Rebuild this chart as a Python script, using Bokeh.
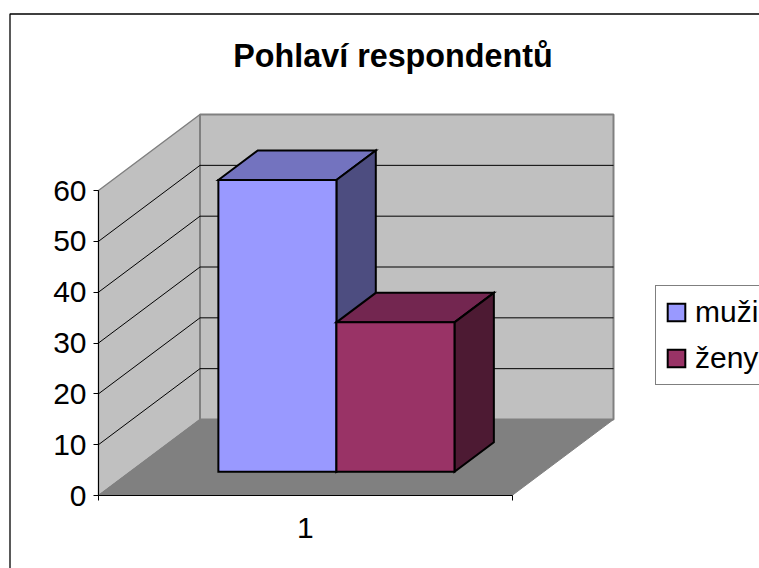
from bokeh.plotting import figure
from bokeh.models import (Range1d, FixedTicker, BoxAnnotation, Label, Legend, LegendItem,
                          ColumnDataSource)
from bokeh.embed import file_html
from bokeh.resources import INLINE

title_text = "Pohlaví respondentů"
series_names = ["muži", "ženy"]
series_values = [57.4, 29.4]
category_labels = ["1"]
y_ticks = [0, 10, 20, 30, 40, 50, 60]
front_colors = ["#9999FF", "#993366"]
top_colors = ["#7373BF", "#732650"]
side_colors = ["#4D4D80", "#4D1A33"]

# layout of the scene
W, H = 759, 568
ORIGIN = 0
PX_PER_X = 413.5     # page pixels per category
PX_PER_V = 5.083     # page pixels per value unit
X0_PAGE, Y0_PAGE = 98.0, 495.0
DEPTH_X = 101.5 / PX_PER_X   # shift of the back wall, in x units
DEPTH_V = 76.0 / PX_PER_V    # shift of the back wall, in value units
BAR_LEFT, BAR_W = 0.2133, 0.2855
BAR_D0, BAR_D1 = 0.312, 0.70
Y_MAX = y_ticks[-1]
FONT = "Liberation Sans"
FS = "30px"


def page_x(px):
    return (px - X0_PAGE) / PX_PER_X


def page_y(py):
    return (Y0_PAGE - py) / PX_PER_V


def proj(x, v, d):
    """x position, value and depth (0 front .. 1 back) to the flat plane"""
    return x + d * DEPTH_X, v + d * DEPTH_V


p = figure(width=W, height=H, output_backend="svg", toolbar_location=None,
           x_range=Range1d(page_x(ORIGIN), page_x(ORIGIN + W)),
           y_range=Range1d(page_y(ORIGIN + H), page_y(ORIGIN)),
           min_border=0, outline_line_color=None, tools="")
p.grid.visible = False

# chart area border
p.add_layout(BoxAnnotation(left=page_x(9.5), right=page_x(900), top=page_y(13.5),
                           bottom=page_y(900), fill_color=None, fill_alpha=0,
                           line_color="black", line_alpha=1, line_width=1.3, level="underlay"))

# walls and floor
corners_left = [proj(0, 0, 0), proj(0, Y_MAX, 0), proj(0, Y_MAX, 1), proj(0, 0, 1)]
corners_back = [proj(0, 0, 1), proj(0, Y_MAX, 1), proj(1, Y_MAX, 1), proj(1, 0, 1)]
corners_floor = [proj(0, 0, 0), proj(0, 0, 1), proj(1, 0, 1), proj(1, 0, 0)]
p.patch([c[0] for c in corners_left], [c[1] for c in corners_left],
        fill_color="#C0C0C0", line_color="#808080", line_width=1.5)
p.patch([c[0] for c in corners_floor], [c[1] for c in corners_floor],
        fill_color="#808080", line_color="#808080", line_width=1)
p.patch([c[0] for c in corners_back], [c[1] for c in corners_back],
        fill_color="#C0C0C0", line_color="#808080", line_width=2)

# gridlines
grid_x, grid_y = [], []
for v in y_ticks[1:-1]:
    pts = [proj(0, v, 0), proj(0, v, 1), proj(1, v, 1)]
    grid_x.append([q[0] for q in pts])
    grid_y.append([q[1] for q in pts])
p.multi_line(grid_x, grid_y, line_color="black", line_width=1)

# bars
front_renderers = []
for i, val in enumerate(series_values):
    l = BAR_LEFT + i * BAR_W
    r = l + BAR_W
    a = proj(l, 0, BAR_D0)
    b = proj(r, val, BAR_D0)
    dx = (BAR_D1 - BAR_D0) * DEPTH_X
    dv = (BAR_D1 - BAR_D0) * DEPTH_V
    p.patch([a[0], a[0] + dx, b[0] + dx, b[0]],
            [b[1], b[1] + dv, b[1] + dv, b[1]],
            fill_color=top_colors[i], line_color="black", line_width=2, line_join="miter")
    p.patch([b[0], b[0] + dx, b[0] + dx, b[0]],
            [b[1], b[1] + dv, a[1] + dv, a[1]],
            fill_color=side_colors[i], line_color="black", line_width=2, line_join="miter")
    src = ColumnDataSource(dict(left=[a[0]], right=[b[0]], top=[b[1]], bottom=[a[1]]))
    front_renderers.append(p.quad(left="left", right="right", top="top", bottom="bottom",
                                  source=src, fill_color=front_colors[i], line_color="black",
                                  line_width=2, line_join="miter"))

# axes at the front of the floor
ya = p.yaxis[0]
ya.fixed_location = 0
ya.bounds = (y_ticks[0], y_ticks[-1])
ya.ticker = FixedTicker(ticks=y_ticks)
ya.axis_line_color = "black"
ya.major_tick_line_color = "black"
ya.minor_tick_line_color = None
ya.major_tick_in = 0
ya.major_tick_out = 5
ya.major_label_standoff = 7
ya.major_label_text_font = FONT
ya.major_label_text_font_size = FS
ya.major_label_text_color = "black"

xa = p.xaxis[0]
xa.fixed_location = 0
xa.bounds = (0, 1)
xa.ticker = FixedTicker(ticks=[0.5], minor_ticks=[0, 1])
xa.major_label_overrides = {0.5: category_labels[0]}
xa.axis_line_color = "black"
xa.major_tick_line_color = None
xa.major_tick_in = 0
xa.major_tick_out = 0
xa.minor_tick_line_color = "black"
xa.minor_tick_in = 0
xa.minor_tick_out = 5
xa.major_label_standoff = 17
xa.major_label_text_font = FONT
xa.major_label_text_font_size = FS
xa.major_label_text_color = "black"

# title
p.add_layout(Label(x=page_x(392.5), y=page_y(55), text=title_text, text_align="center",
                   text_baseline="middle", text_font=FONT, text_font_size="32.3px",
                   text_font_style="bold", text_color="black"))

# legend
legend = Legend(items=[LegendItem(label=n, renderers=[r])
                       for n, r in zip(series_names, front_renderers)],
                location=(655, 568 - 385), orientation="vertical",
                label_text_font=FONT, label_text_font_size="30px", label_text_color="black",
                glyph_width=22, glyph_height=22, label_height=22, label_standoff=8,
                spacing=12, padding=9, margin=0,
                border_line_color="black", border_line_width=1, background_fill_color="white",
                background_fill_alpha=1)
p.add_layout(legend, "center")

open("out.html", "w").write(file_html(p, INLINE))
